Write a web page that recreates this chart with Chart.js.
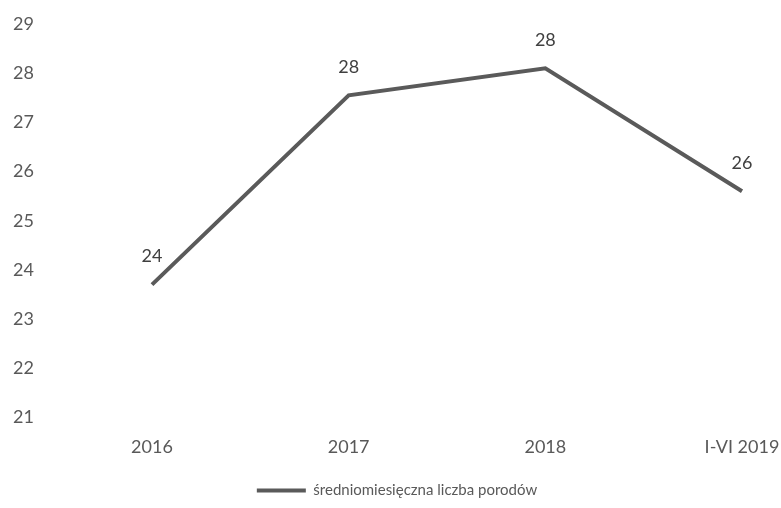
<!DOCTYPE html>
<html>
<head>
<meta charset="utf-8">
<script src="https://cdn.jsdelivr.net/npm/chart.js@4/dist/chart.umd.min.js"></script>
<style>
  html, body { margin: 0; padding: 0; background: #fff; }
  #wrap { width: 781px; height: 508px; }
</style>
</head>
<body>
<div id="wrap"><canvas id="birthsChart" width="781" height="508"></canvas></div>
<script>
var years = ['2016', '2017', '2018', 'I-VI 2019'];
var avgBirths = [23.7, 27.55, 28.1, 25.6];
var seriesName = 'średniomiesięczna liczba porodów';
var yMin = 21;
var yMax = 29;

var grey = '#5a5a5a';
var textGrey = '#595959';
var fontFamily = 'Lato, "Open Sans", sans-serif';

// rounded value printed above each point
var pointLabels = {
  id: 'pointLabels',
  afterDatasetsDraw: function(chart) {
    var ctx = chart.ctx;
    var meta = chart.getDatasetMeta(0);
    ctx.save();
    ctx.font = '18px ' + fontFamily;
    ctx.fillStyle = '#404040';
    ctx.textAlign = 'center';
    ctx.textBaseline = 'middle';
    meta.data.forEach(function(pt, i) {
      ctx.fillText(String(Math.round(avgBirths[i])), pt.x, pt.y - 28);
    });
    ctx.restore();
  }
};

var ctx = document.getElementById('birthsChart').getContext('2d');

var myLineChart = new Chart(ctx, {
  type: 'line',
  data: {
    labels: years,
    datasets: [{
      label: seriesName,
      data: avgBirths,
      borderColor: grey,
      backgroundColor: grey,
      borderWidth: 4,
      pointRadius: 0,
      tension: 0,
      fill: false
    }]
  },
  options: {
    responsive: false,
    animation: false,
    layout: {
      padding: { left: 13, right: 0, top: 24, bottom: 0 }
    },
    scales: {
      x: {
        offset: false,
        grid: { display: false, drawTicks: false },
        border: { display: false },
        ticks: {
          padding: 19,
          maxRotation: 0,
          color: textGrey,
          font: { family: fontFamily, size: 18 }
        },
        afterFit: function(scale) {
          scale.paddingRight = 39;
        }
      },
      y: {
        min: yMin,
        max: yMax,
        grid: { display: false, drawTicks: false },
        border: { display: false },
        ticks: {
          stepSize: 1,
          crossAlign: 'far',
          color: textGrey,
          font: { family: fontFamily, size: 18 }
        },
        afterFit: function(scale) {
          scale.width = 139;
        }
      }
    },
    plugins: {
      tooltip: { enabled: false },
      legend: {
        position: 'bottom',
        labels: {
          color: textGrey,
          font: { family: fontFamily, size: 15 },
          boxWidth: 49,
          boxHeight: 4,
          padding: 6,
          generateLabels: function(chart) {
            return Chart.defaults.plugins.legend.labels.generateLabels(chart).map(function(item) {
              item.lineWidth = 0;
              return item;
            });
          }
        }
      }
    }
  },
  plugins: [pointLabels]
});
</script>
</body>
</html>
